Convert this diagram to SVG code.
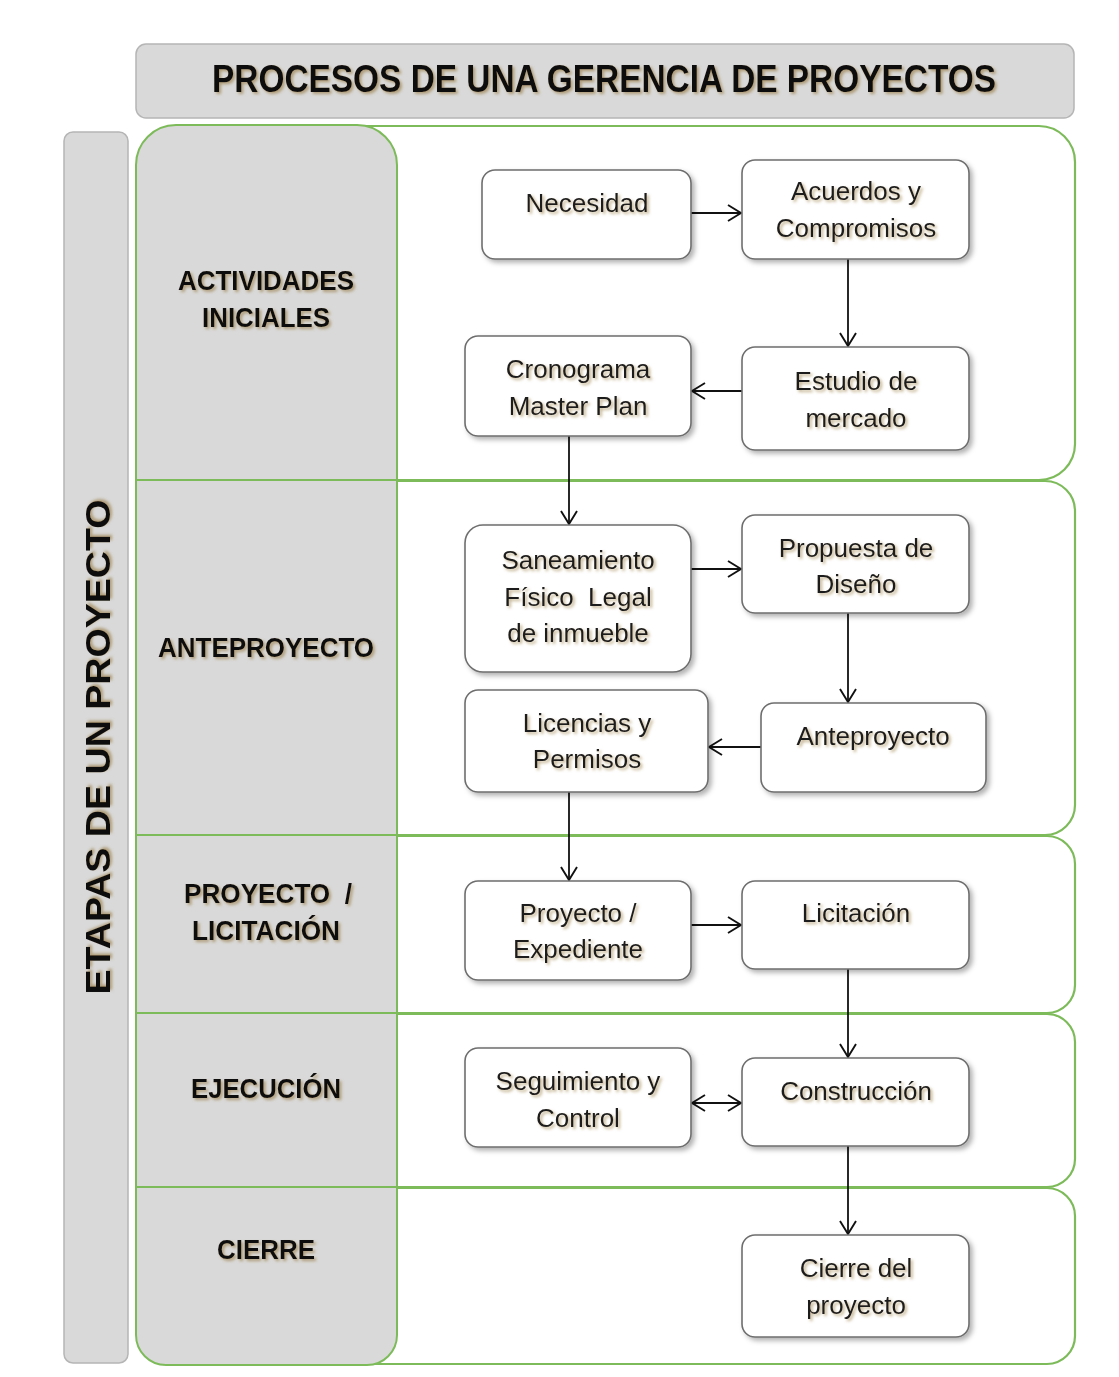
<svg xmlns="http://www.w3.org/2000/svg" width="1119" height="1377" viewBox="0 0 1119 1377">
<defs>
<filter id="sh" x="-10%" y="-10%" width="130%" height="130%"><feDropShadow dx="3" dy="3" stdDeviation="2.5" flood-color="#000" flood-opacity="0.3"/></filter>
<filter id="tsh" x="-10%" y="-30%" width="130%" height="170%"><feDropShadow dx="2" dy="2" stdDeviation="1.5" flood-color="#8a6a2a" flood-opacity="0.55"/></filter>
<marker id="ah" viewBox="0 0 15 18" refX="14" refY="9" markerWidth="15" markerHeight="18" markerUnits="userSpaceOnUse" orient="auto-start-reverse"><path d="M1,1 L14,9 L1,17" fill="none" stroke="#111" stroke-width="1.9"/></marker>
</defs>
<style>
.lane{fill:#fff;stroke:#7dbb5a;stroke-width:2.2}
.gray{fill:#d9d9d9;stroke:#b5b5b5;stroke-width:1.5}
.node rect{fill:#fff;stroke:#6e6e6e;stroke-width:1.6;filter:url(#sh)}
.nt{font-family:"Liberation Sans",Arial,sans-serif;font-size:26px;fill:#1e1e1e;text-anchor:middle;filter:url(#tsh)}
.lt{font-family:"Liberation Sans",Arial,sans-serif;font-weight:bold;font-size:27px;fill:#111;text-anchor:middle;filter:url(#tsh)}
.conn line{stroke:#111;stroke-width:1.8;marker-end:url(#ah)}
</style>
<rect width="1119" height="1377" fill="#fff"/>
<g id="title">
<rect class="gray" x="136" y="44" width="938" height="74" rx="10"/>
<text x="604" y="92" font-family="'Liberation Sans',Arial,sans-serif" font-weight="bold" font-size="38" fill="#111" text-anchor="middle" textLength="784" lengthAdjust="spacingAndGlyphs" filter="url(#tsh)">PROCESOS DE UNA GERENCIA DE PROYECTOS</text>
</g>
<g id="etapas">
<rect class="gray" x="64" y="132" width="64" height="1231" rx="9"/>
<text transform="translate(110,747) rotate(-90)" font-family="'Liberation Sans',Arial,sans-serif" font-weight="bold" font-size="35" fill="#111" text-anchor="middle" textLength="495" lengthAdjust="spacingAndGlyphs" filter="url(#tsh)">ETAPAS DE UN PROYECTO</text>
</g>
<g id="lanes">
<rect class="lane" x="300" y="126" width="775" height="354" rx="36"/>
<rect class="lane" x="300" y="481" width="775" height="354" rx="30"/>
<rect class="lane" x="300" y="836" width="775" height="177" rx="28"/>
<rect class="lane" x="300" y="1014" width="775" height="173" rx="28"/>
<rect class="lane" x="300" y="1188" width="775" height="176" rx="28"/>
<path d="M136,165 A40,40 0 0 1 176,125 L357,125 A40,40 0 0 1 397,165 L397,1335 A30,30 0 0 1 367,1365 L166,1365 A30,30 0 0 1 136,1335 Z" fill="#d9d9d9" stroke="#7dbb5a" stroke-width="2"/>
<g stroke="#7dbb5a" stroke-width="2">
<line x1="136" y1="480" x2="397" y2="480"/>
<line x1="136" y1="835" x2="397" y2="835"/>
<line x1="136" y1="1013" x2="397" y2="1013"/>
<line x1="136" y1="1187" x2="397" y2="1187"/>
</g>
</g>
<g id="lane-labels">
<text class="lt" x="266" y="290" textLength="176" lengthAdjust="spacingAndGlyphs">ACTIVIDADES</text>
<text class="lt" x="266" y="327" textLength="128" lengthAdjust="spacingAndGlyphs">INICIALES</text>
<text class="lt" x="266" y="657" textLength="216" lengthAdjust="spacingAndGlyphs">ANTEPROYECTO</text>
<text class="lt" x="268" y="903" textLength="168" lengthAdjust="spacingAndGlyphs" xml:space="preserve">PROYECTO  /</text>
<text class="lt" x="266" y="940" textLength="148" lengthAdjust="spacingAndGlyphs">LICITACIÓN</text>
<text class="lt" x="266" y="1098" textLength="150" lengthAdjust="spacingAndGlyphs">EJECUCIÓN</text>
<text class="lt" x="266" y="1259" textLength="98" lengthAdjust="spacingAndGlyphs">CIERRE</text>
</g>
<g id="connectors" class="conn">
<line x1="691" y1="213" x2="741" y2="213"/>
<line x1="848" y1="259" x2="848" y2="346"/>
<line x1="742" y1="391" x2="692" y2="391"/>
<line x1="569" y1="436" x2="569" y2="524"/>
<line x1="691" y1="569" x2="741" y2="569"/>
<line x1="848" y1="613" x2="848" y2="702"/>
<line x1="761" y1="747" x2="709" y2="747"/>
<line x1="569" y1="792" x2="569" y2="880"/>
<line x1="691" y1="925" x2="741" y2="925"/>
<line x1="848" y1="969" x2="848" y2="1057"/>
<line x1="692" y1="1103" x2="741" y2="1103" marker-start="url(#ah)"/>
<line x1="848" y1="1146" x2="848" y2="1234"/>
</g>
<g id="n-necesidad" class="node"><rect x="482" y="170" width="209" height="89" rx="13"/><text class="nt" x="587" y="212">Necesidad</text></g>
<g id="n-acuerdos" class="node"><rect x="742" y="160" width="227" height="99" rx="13"/><text class="nt" x="856" y="200">Acuerdos y</text><text class="nt" x="856" y="237">Compromisos</text></g>
<g id="n-estudio" class="node"><rect x="742" y="347" width="227" height="103" rx="13"/><text class="nt" x="856" y="390">Estudio de</text><text class="nt" x="856" y="427">mercado</text></g>
<g id="n-cronograma" class="node"><rect x="465" y="336" width="226" height="100" rx="13"/><text class="nt" x="578" y="378">Cronograma</text><text class="nt" x="578" y="415">Master Plan</text></g>
<g id="n-saneamiento" class="node"><rect x="465" y="525" width="226" height="147" rx="18"/><text class="nt" x="578" y="569">Saneamiento</text><text class="nt" x="578" y="606" xml:space="preserve">Físico  Legal</text><text class="nt" x="578" y="642">de inmueble</text></g>
<g id="n-propuesta" class="node"><rect x="742" y="515" width="227" height="98" rx="13"/><text class="nt" x="856" y="557">Propuesta de</text><text class="nt" x="856" y="593">Diseño</text></g>
<g id="n-anteproyecto" class="node"><rect x="761" y="703" width="225" height="89" rx="13"/><text class="nt" x="873" y="745">Anteproyecto</text></g>
<g id="n-licencias" class="node"><rect x="465" y="690" width="243" height="102" rx="13"/><text class="nt" x="587" y="732">Licencias y</text><text class="nt" x="587" y="768">Permisos</text></g>
<g id="n-proyecto" class="node"><rect x="465" y="881" width="226" height="99" rx="13"/><text class="nt" x="578" y="922">Proyecto /</text><text class="nt" x="578" y="958">Expediente</text></g>
<g id="n-licitacion" class="node"><rect x="742" y="881" width="227" height="88" rx="13"/><text class="nt" x="856" y="922">Licitación</text></g>
<g id="n-seguimiento" class="node"><rect x="465" y="1048" width="226" height="99" rx="13"/><text class="nt" x="578" y="1090">Seguimiento y</text><text class="nt" x="578" y="1127">Control</text></g>
<g id="n-construccion" class="node"><rect x="742" y="1058" width="227" height="88" rx="13"/><text class="nt" x="856" y="1100">Construcción</text></g>
<g id="n-cierre" class="node"><rect x="742" y="1235" width="227" height="102" rx="13"/><text class="nt" x="856" y="1277">Cierre del</text><text class="nt" x="856" y="1314">proyecto</text></g>
</svg>
